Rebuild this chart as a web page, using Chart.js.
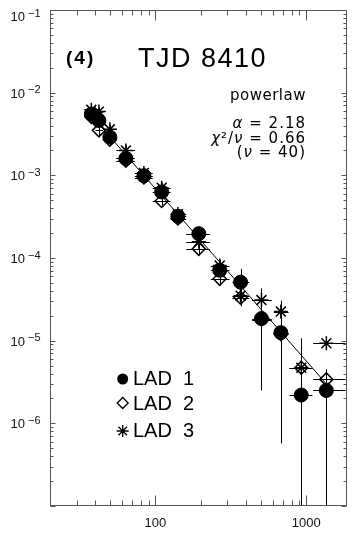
<!DOCTYPE html>
<html>
<head>
<meta charset="utf-8">
<script src="https://cdn.jsdelivr.net/npm/chart.js@4.4.1/dist/chart.umd.min.js"></script>
<style>
  html, body { margin: 0; padding: 0; background: #fff; }
  #wrap { width: 355px; height: 533px; position: relative; }
</style>
</head>
<body>
<div id="wrap"><canvas id="myChart"></canvas></div>
<script>
// energy bin centres and edges (keV)
const energy = [37.6, 42.2, 49.9, 63.7, 83.9, 110, 141, 194, 267, 367, 505, 679, 927, 1360];
const binLo  = [35, 40, 45, 55, 73, 96, 126, 160, 233, 324, 438, 610, 775, 1112];
const binHi  = [40, 45, 55, 73, 96, 126, 160, 230, 310, 419, 591, 764, 1100, 1824];

// LAD 1 (filled circles)
const lad1   = [5.5e-3, 4.6e-3, 2.9e-3, 1.6e-3, 9.9e-4, 6.3e-4, 3.2e-4, 1.97e-4, 7.1e-5, 5.1e-5, 1.85e-5, 1.25e-5, 2.2e-6, 2.5e-6];
const lad1Lo = [4.9e-3, 4.0e-3, 2.3e-3, 1.3e-3, 8.6e-4, 5.4e-4, 2.8e-4, 1.6e-4, 5.6e-5, 3.8e-5, 2.5e-6, 5.7e-7, 1e-8, 1e-8];
const lad1Hi = [6.1e-3, 5.2e-3, 3.3e-3, 1.9e-3, 1.12e-3, 7.2e-4, 3.7e-4, 2.35e-4, 8.6e-5, 7.4e-5, 3.0e-5, 2.0e-5, 6e-6, 3.6e-6];

// LAD 2 (open diamonds)
const lad2   = [5.1e-3, 3.5e-3, 2.7e-3, 1.5e-3, 9.4e-4, 4.9e-4, 3.0e-4, 1.29e-4, 5.6e-5, 3.3e-5, 1.8e-5, 1.2e-5, 4.7e-6, 3.4e-6];
const lad2Lo = [4.6e-3, 3.0e-3, 2.3e-3, 1.3e-3, 8.2e-4, 4.3e-4, 2.6e-4, 1.1e-4, 4.6e-5, 2.6e-5, 1.1e-5, 6e-6, 1e-8, 1e-8];
const lad2Hi = [5.6e-3, 4.0e-3, 3.1e-3, 1.7e-3, 1.06e-3, 5.5e-4, 3.4e-4, 1.48e-4, 6.6e-5, 4.0e-5, 2.5e-5, 1.8e-5, 1.06e-5, 4.5e-6];

// LAD 3 (asterisks)
const lad3   = [6.2e-3, 5.9e-3, 3.6e-3, 2.0e-3, 1.07e-3, 7.1e-4, 3.4e-4, 1.57e-4, 8.1e-5, 3.5e-5, 3.1e-5, 2.25e-5, 4.7e-6, 9.3e-6];
const lad3Lo = [5.6e-3, 5.2e-3, 3.1e-3, 1.7e-3, 9.2e-4, 6.1e-4, 2.9e-4, 1.35e-4, 6.8e-5, 2.8e-5, 2.3e-5, 1.6e-5, 1e-8, 8.5e-6];
const lad3Hi = [6.8e-3, 6.6e-3, 4.1e-3, 2.3e-3, 1.22e-3, 8.1e-4, 3.9e-4, 1.8e-4, 9.5e-5, 4.2e-5, 4.3e-5, 3.05e-5, 1.06e-5, 1.0e-5];

// power law fit line
const fitX = [37.6, 1360];
const fitY = [5.3e-3, 3.0e-6];

// axis labels
const xTickLabels = [100, 1000];
const yTickExps = [-1, -2, -3, -4, -5, -6];
const legendNames = ['LAD  1', 'LAD  2', 'LAD  3'];

const series = [
  { vals: lad1, lo: lad1Lo, hi: lad1Hi },
  { vals: lad2, lo: lad2Lo, hi: lad2Hi },
  { vals: lad3, lo: lad3Lo, hi: lad3Hi }
];

const toPts = (xs, ys) => xs.map((x, i) => ({ x: x, y: ys[i] }));

// error bars, drawn under the markers
const errorBars = {
  id: 'errorBars',
  beforeDatasetsDraw(chart) {
    const { ctx, chartArea: a, scales: { x, y } } = chart;
    ctx.save();
    ctx.beginPath();
    ctx.rect(a.left, a.top, a.right - a.left, a.bottom - a.top);
    ctx.clip();
    ctx.strokeStyle = '#000';
    ctx.lineWidth = 1;
    series.forEach(s => {
      s.vals.forEach((v, i) => {
        const px = Math.round(x.getPixelForValue(energy[i])) + 0.5;
        const py = Math.round(y.getPixelForValue(v)) + 0.5;
        ctx.beginPath();
        ctx.moveTo(px, y.getPixelForValue(s.lo[i]));
        ctx.lineTo(px, y.getPixelForValue(s.hi[i]));
        ctx.moveTo(x.getPixelForValue(binLo[i]), py);
        ctx.lineTo(x.getPixelForValue(binHi[i]), py);
        ctx.stroke();
      });
    });
    ctx.restore();
  }
};

// frame, inward ticks, tick labels
const frame = {
  id: 'frame',
  afterDraw(chart) {
    const { ctx, chartArea: a, scales: { x, y } } = chart;
    const L = Math.round(a.left) + 0.5, R = Math.round(a.right) - 0.5;
    const T = Math.round(a.top) + 0.5, B = Math.round(a.bottom) - 0.5;
    ctx.save();
    ctx.strokeStyle = '#555';
    ctx.lineWidth = 1;
    ctx.strokeRect(L, T, R - L, B - T);

    ctx.beginPath();
    // y ticks, left and right
    for (let e = -7; e <= -1; e++) {
      for (let m = 1; m <= 9; m++) {
        const v = m * Math.pow(10, e);
        if (v < y.min * 0.999 || v > y.max * 1.001) continue;
        const py = Math.round(y.getPixelForValue(v)) + 0.5;
        const len = m === 1 ? 5 : 3;
        ctx.moveTo(L, py); ctx.lineTo(L + len, py);
        ctx.moveTo(R, py); ctx.lineTo(R - len, py);
      }
    }
    // x ticks, bottom and top
    for (let e = 1; e <= 3; e++) {
      for (let m = 1; m <= 9; m++) {
        const v = m * Math.pow(10, e);
        if (v <= x.min || v >= x.max) continue;
        const px = Math.round(x.getPixelForValue(v)) + 0.5;
        const len = m === 1 ? 10 : 5;
        ctx.moveTo(px, B); ctx.lineTo(px, B - len);
        ctx.moveTo(px, T); ctx.lineTo(px, T + len);
      }
    }
    ctx.stroke();

    ctx.fillStyle = '#111';
    // y labels 10^n
    yTickExps.forEach(e => {
      let cy = y.getPixelForValue(Math.pow(10, e));
      if (cy < 16) cy = 16;
      ctx.font = '13px "Liberation Sans", Arial, sans-serif';
      ctx.textAlign = 'right';
      ctx.textBaseline = 'alphabetic';
      ctx.fillText('10', 25, cy + 5);
      ctx.font = '11px "Liberation Sans", Arial, sans-serif';
      ctx.textAlign = 'left';
      ctx.fillText('\u2212' + Math.abs(e), 28, cy + 0.5);
    });
    // x labels
    ctx.font = '13px "Liberation Sans", Arial, sans-serif';
    ctx.textAlign = 'center';
    xTickLabels.forEach(v => {
      ctx.fillText(String(v), x.getPixelForValue(v), 527);
    });
    ctx.restore();
  }
};

// right-aligned text made of upright and italic pieces
function drawPieces(ctx, pieces, right, baseline) {
  const up = '15px "DejaVu Sans", sans-serif';
  const it = 'italic 15px "DejaVu Sans", sans-serif';
  let w = 0;
  pieces.forEach(p => { ctx.font = p[1] ? it : up; w += ctx.measureText(p[0]).width; });
  let xx = right - w;
  ctx.textAlign = 'left';
  pieces.forEach(p => {
    ctx.font = p[1] ? it : up;
    ctx.fillText(p[0], xx, baseline);
    xx += ctx.measureText(p[0]).width;
  });
}

// annotations and legend
const notes = {
  id: 'notes',
  afterDraw(chart) {
    const { ctx } = chart;
    ctx.save();
    ctx.fillStyle = '#000';
    ctx.textBaseline = 'alphabetic';

    ctx.font = 'bold 19px "Liberation Sans", Arial, sans-serif';
    ctx.letterSpacing = '2px';
    ctx.textAlign = 'left';
    ctx.fillText('(4)', 66, 64);

    ctx.font = '27px "Liberation Sans", Arial, sans-serif';
    ctx.letterSpacing = '1.5px';
    ctx.fillText('TJD 8410', 138, 67);

    ctx.textAlign = 'right';
    ctx.font = '15px "DejaVu Sans", sans-serif';
    ctx.letterSpacing = '0.5px';
    ctx.fillText('powerlaw', 306, 100);
    ctx.letterSpacing = '1px';
    drawPieces(ctx, [['\u03b1', true], [' = 2.18', false]], 306, 128);
    drawPieces(ctx, [['\u03c7', true], ['\u00b2/', false], ['\u03bd', true], [' = 0.66', false]], 306, 143);
    drawPieces(ctx, [['(', false], ['\u03bd', true], [' = 40)', false]], 306, 157);

    // legend
    const lx = 122.7, rows = [379, 403, 431], base = [385, 410, 437];
    ctx.letterSpacing = '0px';
    ctx.strokeStyle = '#000';
    // circle
    ctx.beginPath();
    ctx.arc(lx, rows[0], 5.5, 0, Math.PI * 2);
    ctx.fill();
    // diamond
    ctx.lineWidth = 1.3;
    ctx.beginPath();
    ctx.moveTo(lx, rows[1] - 5.5); ctx.lineTo(lx + 5.5, rows[1]);
    ctx.lineTo(lx, rows[1] + 5.5); ctx.lineTo(lx - 5.5, rows[1]);
    ctx.closePath();
    ctx.stroke();
    // asterisk
    ctx.beginPath();
    const r = 6;
    ctx.moveTo(lx, rows[2] - r); ctx.lineTo(lx, rows[2] + r);
    ctx.moveTo(lx - r, rows[2]); ctx.lineTo(lx + r, rows[2]);
    const d = r * Math.SQRT1_2;
    ctx.moveTo(lx - d, rows[2] - d); ctx.lineTo(lx + d, rows[2] + d);
    ctx.moveTo(lx - d, rows[2] + d); ctx.lineTo(lx + d, rows[2] - d);
    ctx.stroke();

    ctx.font = '20px "Liberation Sans", Arial, sans-serif';
    ctx.textAlign = 'left';
    legendNames.forEach((name, i) => {
      ctx.fillText(name, 133, base[i]);
    });
    ctx.restore();
  }
};

const ctx = document.querySelector('#myChart').getContext('2d');

new Chart(ctx, {
  type: 'scatter',
  data: {
    datasets: [
      {
        label: 'powerlaw',
        data: toPts(fitX, fitY),
        showLine: true,
        borderColor: '#000',
        borderWidth: 1,
        pointRadius: 0,
        order: 4
      },
      {
        label: 'LAD 1',
        data: toPts(energy, lad1),
        pointStyle: 'circle',
        pointRadius: 7,
        backgroundColor: '#000',
        borderColor: '#000',
        borderWidth: 1,
        order: 1
      },
      {
        label: 'LAD 2',
        data: toPts(energy, lad2),
        pointStyle: 'rectRot',
        pointRadius: 6.5,
        backgroundColor: 'rgba(0,0,0,0)',
        borderColor: '#000',
        borderWidth: 1.5,
        order: 2
      },
      {
        label: 'LAD 3',
        data: toPts(energy, lad3),
        pointStyle: 'star',
        pointRadius: 7,
        backgroundColor: 'rgba(0,0,0,0)',
        borderColor: '#000',
        borderWidth: 1.5,
        order: 3
      }
    ]
  },
  options: {
    responsive: true,
    maintainAspectRatio: false,
    animation: false,
    layout: { padding: { left: 50, right: 4, top: 10, bottom: 27 } },
    plugins: { legend: { display: false }, tooltip: { enabled: false } },
    scales: {
      x: { type: 'logarithmic', display: false, min: 20, max: 1850 },
      y: { type: 'logarithmic', display: false, min: 1e-7, max: 1e-1 }
    }
  },
  plugins: [errorBars, frame, notes]
});
</script>
</body>
</html>
